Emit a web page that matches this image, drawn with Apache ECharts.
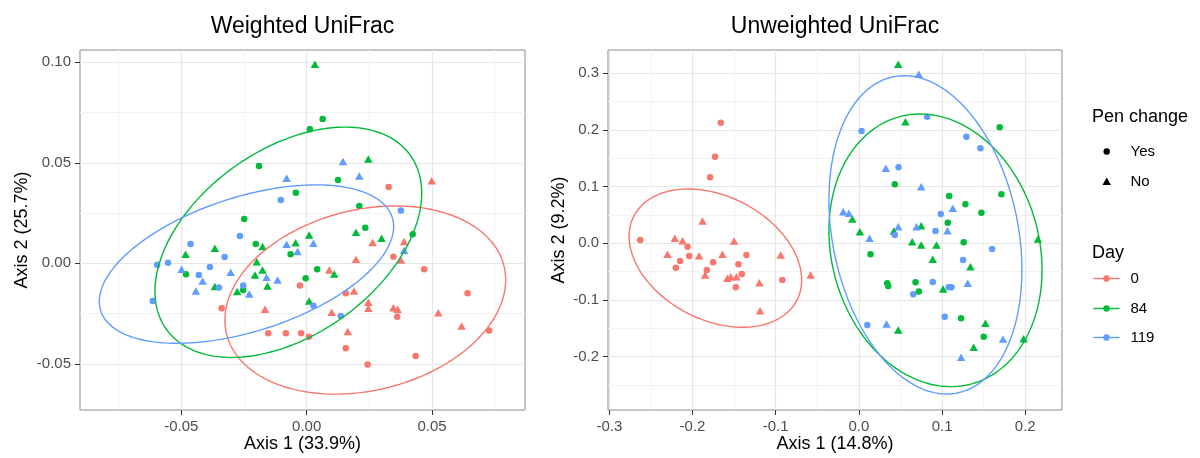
<!DOCTYPE html>
<html>
<head>
<meta charset="utf-8">
<script src="https://cdn.jsdelivr.net/npm/echarts@6/dist/echarts.min.js"></script>
<style>
html,body{margin:0;padding:0;background:#fff;}
#chart{width:1200px;height:458px;}
</style>
</head>
<body>
<div id="chart"></div>
<script>
// ---------- Weighted UniFrac points [Axis1, Axis2] ----------
var w0Yes = [[0.0327,0.038],[-0.0339,-0.0224],[-0.0027,-0.0111],[-0.0153,-0.0348],[-0.0083,-0.0348],[-0.0022,-0.0348],[0.0009,-0.0365],[0.0346,0.0033],[0.0469,-0.003],[0.0156,-0.0149],[0.0642,-0.0149],[0.0361,-0.0266],[0.0728,-0.0335],[0.0156,-0.0423],[0.0435,-0.0461],[0.0243,-0.0504]];
var w0No = [[0.0499,0.041],[-0.0166,-0.0229],[0.0263,0.0103],[0.0389,0.0108],[0.0376,0.0016],[0.0197,0.002],[0.009,-0.0033],[0.0189,-0.0138],[0.0246,-0.0194],[0.0246,-0.0224],[0.0346,-0.0221],[0.0363,-0.0229],[0.01,-0.0244],[0.0525,-0.0246],[0.0618,-0.0312],[0.0164,-0.034]];
var w84Yes = [[-0.019,0.0484],[-0.0043,0.0351],[-0.0249,0.022],[0.0064,0.0718],[0.0013,0.0667],[0.0125,0.0414],[0.021,0.0285],[0.0234,0.0177],[0.0423,0.0144],[-0.0203,0.0096],[-0.0064,0.0045],[-0.0481,-0.0055],[-0.0253,-0.0133],[0.0042,-0.003],[-0.0004,-0.0075]];
var w84No = [[0.0033,0.099],[0.0246,0.0519],[0.001,0.0141],[0.0197,0.0154],[0.0299,0.0124],[-0.0483,0.0045],[-0.0366,0.0075],[-0.0176,0.0083],[-0.0044,0.0102],[-0.0199,0.0008],[-0.0176,-0.0033],[-0.0206,-0.0058],[-0.0156,-0.0113],[-0.0366,-0.0116],[-0.0277,-0.0141],[0.011,-0.0053],[0.001,-0.0188]];
var w119Yes = [[-0.0103,0.0315],[-0.0266,0.0136],[0.0376,0.0262],[-0.0463,0.0096],[-0.0327,0.0031],[-0.0596,-0.0008],[-0.0553,0.0003],[-0.043,-0.0058],[-0.0386,-0.0018],[-0.035,-0.0121],[-0.0253,-0.0111],[-0.0614,-0.0188],[0.0027,-0.0211],[0.0136,-0.0262]];
var w119No = [[-0.008,0.0423],[0.0145,0.0506],[0.021,0.0434],[-0.008,0.0095],[-0.0036,0.0058],[0.0027,0.01],[0.0389,0.0063],[-0.0499,-0.003],[-0.0415,-0.0088],[-0.0303,-0.0045],[-0.016,-0.007],[-0.0116,-0.0083],[-0.0442,-0.0138],[-0.0229,-0.0153]];

// ---------- Unweighted UniFrac points ----------
var u0Yes = [[-0.166,0.2128],[-0.1729,0.1528],[-0.1789,0.1165],[-0.2629,0.0058],[-0.206,-0.006],[-0.204,-0.0224],[-0.2149,-0.0312],[-0.22,-0.043],[-0.1753,-0.0335],[-0.1352,-0.0206],[-0.1448,-0.0371],[-0.1828,-0.0471],[-0.1408,-0.0542],[-0.148,-0.0776],[-0.092,-0.0647]];
var u0No = [[-0.188,0.0394],[-0.2213,0.0088],[-0.212,0.0046],[-0.23,-0.0194],[-0.192,-0.0219],[-0.164,-0.0194],[-0.15,0.0041],[-0.1849,-0.0559],[-0.158,-0.0618],[-0.154,-0.059],[-0.1472,-0.059],[-0.1196,-0.0695],[-0.1188,-0.1189],[-0.094,-0.0206],[-0.058,-0.0559]];
var u84Yes = [[0.1693,0.2047],[0.0432,0.1041],[0.1085,0.0835],[0.1713,0.0865],[0.1281,0.0688],[0.1473,0.054],[0.1069,0.0364],[0.126,0.0017],[0.014,-0.0194],[0.0341,-0.0706],[0.0353,-0.0753],[0.0681,-0.0688],[0.072,-0.0853],[0.1229,-0.1323],[0.1501,-0.1648]];
var u84No = [[0.0473,0.3159],[0.056,0.2146],[-0.0079,0.0429],[0.0012,0.0205],[0.042,0.0217],[0.0749,0.0311],[0.2153,0.0076],[0.0641,0.0029],[0.0749,-0.003],[0.0933,-0.003],[0.0888,-0.0282],[0.1341,-0.0413],[0.1013,-0.0806],[0.0473,-0.153],[0.1521,-0.1412],[0.1981,-0.1683],[0.138,-0.1835]];
var u119Yes = [[0.0821,0.2234],[0.0032,0.1982],[0.1293,0.1881],[0.1461,0.1676],[0.0477,0.1341],[0.0984,0.0517],[0.0921,0.0217],[0.0432,0.0146],[0.1601,-0.01],[0.1253,-0.0294],[0.0888,-0.0683],[0.1113,-0.0776],[0.108,-0.0776],[0.0653,-0.09],[0.1032,-0.1295],[0.0101,-0.1442]];
var u119No = [[0.072,0.2982],[0.0324,0.1323],[0.0749,0.0999],[0.1129,0.0618],[-0.0188,0.0558],[-0.012,0.0529],[0.0473,0.0293],[0.0693,0.0293],[0.1065,0.0222],[0.0128,0.0088],[0.1309,-0.0706],[0.0333,-0.1424],[0.1733,-0.1689],[0.1229,-0.2012]];

// ---------- ellipse parameters: [centerX, centerY, halfWidth, halfHeight, yOffsetAtRightmost] ----------
var wEll0 = [0.0234,-0.0183,0.056,0.0468,0.01];
var wEll84 = [-0.0073,0.01045,0.0532,0.0573,0.0244];
var wEll119 = [-0.024,-0.0004,0.0587,0.0394,0.0186];
var uEll0 = [-0.1725,-0.0262,0.1037,0.122,-0.0385];
var uEll84 = [0.0921,-0.0124,0.1281,0.2406,-0.0346];
var uEll119 = [0.08,0.0149,0.116,0.2809,-0.0619];

// ---------- axes ----------
var wXRange = [-0.0904, 0.0871];
var wYRange = [-0.073, 0.1061];
var uXRange = [-0.3016, 0.2442];
var uYRange = [-0.2942, 0.3411];
var wXTicks = [-0.05, 0, 0.05];
var wXTickLabels = ["-0.05","0.00","0.05"];
var wYTicks = [-0.05, 0, 0.05, 0.10];
var wYTickLabels = ["-0.05","0.00","0.05","0.10"];
var wXMinor = [-0.075,-0.025,0.025,0.075];
var wYMinor = [-0.025,0.025,0.075];
var uXTicks = [-0.3,-0.2,-0.1,0,0.1,0.2];
var uXTickLabels = ["-0.3","-0.2","-0.1","0.0","0.1","0.2"];
var uYTicks = [-0.2,-0.1,0,0.1,0.2,0.3];
var uYTickLabels = ["-0.2","-0.1","0.0","0.1","0.2","0.3"];
var uXMinor = [-0.25,-0.15,-0.05,0.05,0.15,0.25];
var uYMinor = [-0.25,-0.15,-0.05,0.05,0.15,0.25];

var dayLabels = ["0","84","119"];
var penLabels = ["Yes","No"];
var titles = ["Weighted UniFrac","Unweighted UniFrac"];
var xTitles = ["Axis 1 (33.9%)","Axis 1 (14.8%)"];
var yTitles = ["Axis 2 (25.7%)","Axis 2 (9.2%)"];

var COLORS = ['#F8766D','#00BA38','#619CFF'];
var FONT = 'Liberation Sans, Arial, Helvetica, sans-serif';

function ellipsePath(p){
  var cx=p[0], cy=p[1], W=p[2], H=p[3], uy=p[4];
  var vy=Math.sqrt(Math.max(H*H-uy*uy,0));
  var pts=[];
  for(var i=0;i<=180;i++){
    var t=i/180*2*Math.PI;
    pts.push([cx+W*Math.cos(t), cy+uy*Math.cos(t)+vy*Math.sin(t)]);
  }
  return pts;
}
function labeler(ticks, labels){
  return function(v){
    for(var i=0;i<ticks.length;i++){ if(Math.abs(ticks[i]-v)<1e-9) return labels[i]; }
    return '';
  };
}
function mainAxis(grid, range, ticks, labels){
  return {
    type:'value', gridIndex:grid, min:range[0], max:range[1],
    axisLine:{show:false, onZero:false},
    axisTick:{show:true, length:5, customValues:ticks, lineStyle:{color:'#333333', width:1}},
    axisLabel:{customValues:ticks, formatter:labeler(ticks,labels), color:'#4d4d4d', fontSize:15, fontFamily:FONT, margin:9},
    splitLine:{show:true, lineStyle:{color:'#e6e6e6', width:1.2}},
    axisPointer:{show:false}
  };
}
function minorAxis(grid, range, ticks){
  return {
    type:'value', gridIndex:grid, min:range[0], max:range[1],
    axisLine:{show:false, onZero:false},
    axisTick:{show:false, customValues:ticks},
    axisLabel:{show:false, customValues:ticks},
    splitLine:{show:true, lineStyle:{color:'#f2f2f2', width:1}},
    axisPointer:{show:false}
  };
}

var series=[];
function addPanel(axisIdx, sets, ells){
  for(var d=0; d<3; d++){
    series.push({type:'scatter', xAxisIndex:axisIdx, yAxisIndex:axisIdx, data:sets[d][0], symbol:'circle', symbolSize:6.5, itemStyle:{color:COLORS[d], opacity:1}, z:3, silent:true});
    series.push({type:'scatter', xAxisIndex:axisIdx, yAxisIndex:axisIdx, data:sets[d][1], symbol:'triangle', symbolSize:[8.5,7.5], itemStyle:{color:COLORS[d], opacity:1}, z:3, silent:true});
  }
  for(var d2=0; d2<3; d2++){
    series.push({type:'line', xAxisIndex:axisIdx, yAxisIndex:axisIdx, data:ellipsePath(ells[d2]), showSymbol:false, symbol:'none', smooth:false, lineStyle:{color:COLORS[d2], width:1.4}, z:4, silent:true, clip:true});
  }
}
addPanel(0, [[w0Yes,w0No],[w84Yes,w84No],[w119Yes,w119No]], [wEll0,wEll84,wEll119]);
addPanel(2, [[u0Yes,u0No],[u84Yes,u84No],[u119Yes,u119No]], [uEll0,uEll84,uEll119]);

var G0={left:80, top:50, w:445, h:360};
var G1={left:608, top:50, w:454, h:360};

var graphics=[];
function txt(x,y,s,size,opts){
  var o={type:'text', x:x, y:y, style:{text:s, fill:'#000', font: size+'px '+FONT, textAlign:'center', textVerticalAlign:'middle'}};
  if(opts){ for(var k in opts){ if(k==='style'){ for(var kk in opts.style) o.style[kk]=opts.style[kk]; } else o[k]=opts[k]; } }
  graphics.push(o);
}
txt(G0.left+G0.w/2, 27, titles[0], 23);
txt(G1.left+G1.w/2, 27, titles[1], 23);
txt(G0.left+G0.w/2, 444, xTitles[0], 18);
txt(G1.left+G1.w/2, 444, xTitles[1], 18);
txt(22.5, G0.top+G0.h/2, yTitles[0], 18, {rotation:Math.PI/2});
txt(559, G1.top+G1.h/2, yTitles[1], 18, {rotation:Math.PI/2});

// legend
txt(1092, 117, 'Pen change', 18, {style:{textAlign:'left'}});
graphics.push({type:'circle', shape:{cx:1106.7, cy:151.5, r:3.2}, style:{fill:'#000'}});
graphics.push({type:'polygon', shape:{points:[[1102.5,185],[1110.9,185],[1106.7,177.6]]}, style:{fill:'#000'}});
txt(1130.5, 151.5, penLabels[0], 15, {style:{textAlign:'left'}});
txt(1130.5, 181.5, penLabels[1], 15, {style:{textAlign:'left'}});
txt(1092, 253, 'Day', 18, {style:{textAlign:'left'}});
var dayY=[278.5, 308.5, 337.5];
for(var i=0;i<3;i++){
  graphics.push({type:'line', shape:{x1:1093.3, y1:dayY[i], x2:1119.5, y2:dayY[i]}, style:{stroke:COLORS[i], lineWidth:1.4}});
  graphics.push({type:'circle', shape:{cx:1106.5, cy:dayY[i], r:3.2}, style:{fill:COLORS[i]}});
  txt(1130.5, dayY[i], dayLabels[i], 15, {style:{textAlign:'left'}});
}

var chart = echarts.init(document.getElementById('chart'), null, {renderer:'canvas'});
chart.setOption({
  animation:false,
  backgroundColor:'#ffffff',
  grid:[
    {left:G0.left, top:G0.top, width:G0.w, height:G0.h, show:true, borderColor:'#8c8c8c', borderWidth:1, backgroundColor:'#ffffff', containLabel:false},
    {left:G1.left, top:G1.top, width:G1.w, height:G1.h, show:true, borderColor:'#8c8c8c', borderWidth:1, backgroundColor:'#ffffff', containLabel:false}
  ],
  xAxis:[
    mainAxis(0, wXRange, wXTicks, wXTickLabels),
    minorAxis(0, wXRange, wXMinor),
    mainAxis(1, uXRange, uXTicks, uXTickLabels),
    minorAxis(1, uXRange, uXMinor)
  ],
  yAxis:[
    mainAxis(0, wYRange, wYTicks, wYTickLabels),
    minorAxis(0, wYRange, wYMinor),
    mainAxis(1, uYRange, uYTicks, uYTickLabels),
    minorAxis(1, uYRange, uYMinor)
  ],
  series:series,
  graphic:graphics
});
</script>
</body>
</html>
